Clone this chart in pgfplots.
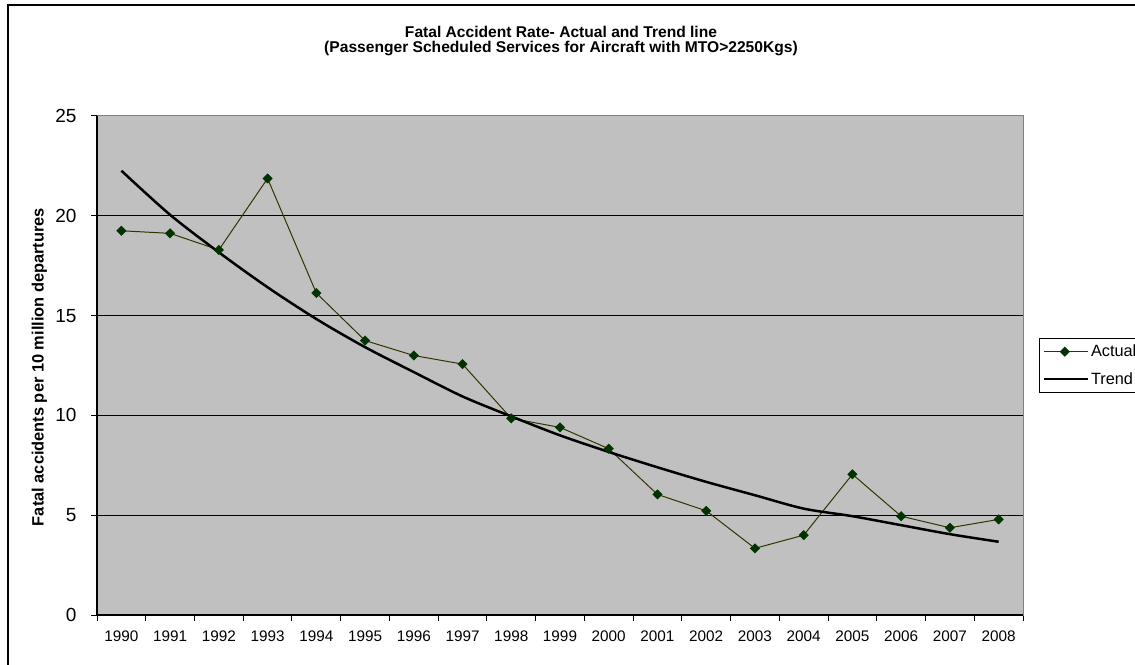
\documentclass[border=0pt]{standalone}
\usepackage{fontspec}
\setmainfont{Liberation Sans}
\usepackage{pgfplots}
\pgfplotsset{compat=1.18}
\definecolor{plotbg}{HTML}{C0C0C0}
\definecolor{actline}{HTML}{333300}
\definecolor{actmark}{HTML}{003300}
\definecolor{framegray}{HTML}{808080}
\begin{document}
\begin{tikzpicture}
\useasboundingbox (0pt,0pt) rectangle (1135pt,664pt);
\fill[white] (0pt,0pt) rectangle (1135pt,664pt);
\draw[line width=1.5pt] (8pt,-3pt) -- (8pt,659pt) -- (1140pt,659pt);
\node[anchor=base, font=\fontsize{15.6}{18}\selectfont\bfseries] at (561pt,626.5pt) {Fatal Accident Rate- Actual and Trend line};
\node[anchor=base, font=\fontsize{15.6}{18}\selectfont\bfseries] at (561pt,611.5pt) {(Passenger Scheduled Services for Aircraft with MTO>2250Kgs)};
\node[rotate=90, font=\fontsize{16.4}{19}\selectfont\bfseries] at (39.5pt,297pt) {Fatal accidents per 10 million departures};
\begin{axis}[
  at={(97pt,49pt)}, anchor=south west, scale only axis,
  width=926pt, height=499pt,
  xmin=-0.5, xmax=18.5, ymin=0, ymax=25,
  axis background/.style={fill=plotbg},
  axis line style={draw=framegray, line width=1pt},
  xtick={-0.5,0.5,...,18.5},
  x tick label as interval,
  xticklabels={1990,1991,1992,1993,1994,1995,1996,1997,1998,1999,2000,2001,2002,2003,2004,2005,2006,2007,2008},
  ytick={0,5,10,15,20,25},
  tick align=outside, xtick pos=bottom, ytick pos=left,
  major tick length=6pt,
  tick style={black, line width=1pt},
  yticklabel style={font=\fontsize{19}{22}\selectfont, xshift=-11pt},
  xticklabel style={font=\fontsize{15.3}{18}\selectfont, yshift=-6pt},
  /pgf/number format/assume math mode=true,
  clip=false,
  legend image code/.code={\path (0pt,0pt) -- (44pt,0pt);\draw[mark repeat=2,mark phase=2,#1] plot coordinates {(2pt,0pt) (21pt,0pt) (40pt,0pt)};},
  legend style={at={(1.0173,0.556)}, anchor=north west, draw=black, line width=1pt, fill=white,
    font=\fontsize{16.3}{19}\selectfont, row sep=10pt, inner xsep=3pt, inner ysep=5pt},
  legend cell align=left,
]
\pgfplotsinvokeforeach{5,10,15,20}{\draw[black,line width=1pt] (axis cs:-0.5,#1) -- (axis cs:18.5,#1);}
\addplot[color=actline, line width=1pt, mark=square*, mark size=3.3pt,
  mark options={rotate=45, fill=actmark, draw=actmark, line width=0.5pt}] coordinates {
(0,19.25) (1,19.12) (2,18.29) (3,21.87) (4,16.13) (5,13.75) (6,13.0) (7,12.57) (8,9.85) (9,9.4)
(10,8.33) (11,6.04) (12,5.22) (13,3.34) (14,4.0) (15,7.05) (16,4.95) (17,4.37) (18,4.79)
};
\addlegendentry{Actual}
\addplot[black, line width=2.5pt, no marks, smooth] coordinates {
(0,22.26) (1,20.05) (2,18.17) (3,16.42) (4,14.83) (5,13.42) (6,12.17) (7,10.95) (8,9.95) (9,9.0)
(10,8.17) (11,7.4) (12,6.67) (13,6.0) (14,5.33) (15,4.95) (16,4.5) (17,4.05) (18,3.67)
};
\addlegendentry{Trend}
\draw[black, line width=1.5pt] (rel axis cs:0,1) -- (rel axis cs:0,0) -- (rel axis cs:1,0);
\end{axis}
\end{tikzpicture}
\end{document}
